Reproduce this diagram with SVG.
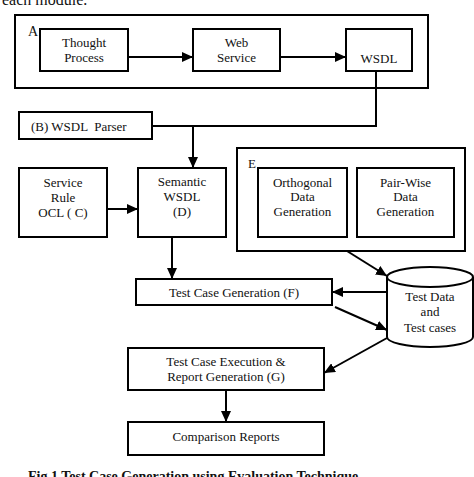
<svg xmlns="http://www.w3.org/2000/svg" width="474" height="477" viewBox="0 0 474 477">
<style>
.box{fill:#fff;stroke:#000;stroke-width:2}
.grp{fill:none;stroke:#000;stroke-width:2}
.t{font-family:"Liberation Serif","Times New Roman",serif;font-size:13px;fill:#111;text-anchor:middle}
.l{font-family:"Liberation Serif","Times New Roman",serif;font-size:13px;fill:#111;white-space:pre}
.c{fill:none;stroke:#000;stroke-width:2}
.a{marker-end:url(#ah)}
</style>
<defs>
<marker id="ah" markerUnits="userSpaceOnUse" markerWidth="11" markerHeight="10" refX="11" refY="5" orient="auto">
<path d="M0,0 L11,5 L0,10 z" fill="#000"/>
</marker>
</defs>
<rect width="474" height="477" fill="#fff"/>
<text x="2" y="5" style="font-family:'Liberation Serif',serif;font-size:16px;fill:#111">each module.</text>

<g id="groupA">
<rect class="grp" x="15" y="15" width="413" height="73"/>
<text class="l" x="28" y="36" style="font-size:14px">A</text>
</g>
<g id="thought">
<rect class="box" x="40" y="29" width="88" height="42"/>
<text class="t" x="84" y="47">Thought</text>
<text class="t" x="84" y="62">Process</text>
</g>
<g id="webservice">
<rect class="box" x="193" y="29" width="87" height="42"/>
<text class="t" x="236.5" y="47">Web</text>
<text class="t" x="236.5" y="62">Service</text>
</g>
<g id="wsdl">
<rect class="box" x="346" y="29" width="66" height="42"/>
<text class="t" x="379" y="63">WSDL</text>
</g>
<g id="parser">
<rect class="box" x="19" y="112" width="133" height="27"/>
<text class="l" x="31" y="131">(B) WSDL  Parser</text>
</g>
<g id="servicerule">
<rect class="box" x="19" y="168" width="88" height="69"/>
<text class="t" x="63" y="187">Service</text>
<text class="t" x="63" y="202">Rule</text>
<text class="t" x="63" y="217">OCL ( C)</text>
</g>
<g id="semantic">
<rect class="box" x="138" y="168" width="88" height="69"/>
<text class="t" x="182" y="186">Semantic</text>
<text class="t" x="182" y="201">WSDL</text>
<text class="t" x="182" y="216">(D)</text>
</g>
<g id="groupE">
<rect class="grp" x="237" y="148" width="228" height="103"/>
<text class="l" x="248" y="168">E</text>
</g>
<g id="orthogonal">
<rect class="box" x="258" y="168" width="89" height="69"/>
<text class="t" x="302.5" y="187">Orthogonal</text>
<text class="t" x="302.5" y="201">Data</text>
<text class="t" x="302.5" y="216">Generation</text>
</g>
<g id="pairwise">
<rect class="box" x="357" y="168" width="97" height="69"/>
<text class="t" x="405.5" y="187">Pair-Wise</text>
<text class="t" x="405.5" y="201">Data</text>
<text class="t" x="405.5" y="216">Generation</text>
</g>
<g id="testdata">
<path d="M387,277 V337 A43,10 0 0 0 473,337 V277" fill="#fff" stroke="#000" stroke-width="2"/>
<ellipse cx="430" cy="277" rx="43" ry="10" fill="#fff" stroke="#000" stroke-width="2"/>
<text class="t" x="430" y="301">Test Data</text>
<text class="t" x="430" y="316">and</text>
<text class="t" x="430" y="332">Test cases</text>
</g>
<g id="testcasegen">
<rect class="box" x="136" y="279" width="196" height="26"/>
<text class="t" x="234" y="297">Test Case Generation (F)</text>
</g>
<g id="execution">
<rect class="box" x="128" y="348" width="196" height="42"/>
<text class="t" x="226" y="366">Test Case Execution &amp;</text>
<text class="t" x="226" y="381">Report Generation (G)</text>
</g>
<g id="comparison">
<rect class="box" x="128" y="422" width="196" height="33"/>
<text class="t" x="226" y="441">Comparison Reports</text>
</g>

<g id="connectors">
<path class="c a" d="M128,57 H193"/>
<path class="c a" d="M280,57 H346"/>
<path class="c" d="M376,71 V126 H152"/>
<path class="c a" d="M193,126 V168"/>
<path class="c a" d="M107,209 H138"/>
<path class="c a" d="M172,237 V279"/>
<path class="c a" d="M347,251 L387,276"/>
<path class="c a" d="M387,292 H332"/>
<path class="c a" d="M335,307 L387,330"/>
<path class="c a" d="M387,338 L324,373"/>
<path class="c a" d="M226,390 V422"/>
</g>

<text x="28" y="481" style="font-family:'Liberation Serif',serif;font-size:14px;font-weight:bold;fill:#111">Fig.1 Test Case Generation using Evaluation Technique</text>
</svg>
